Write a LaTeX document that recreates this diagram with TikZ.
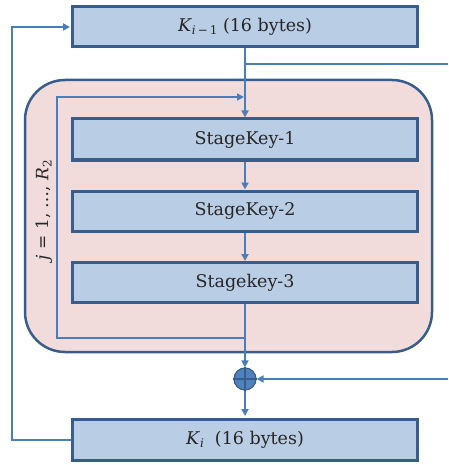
\documentclass[tikz,border=0pt]{standalone}
\usepackage{fontspec}
\setmainfont{DejaVu Serif}
\usetikzlibrary{arrows.meta}
\definecolor{boxfill}{HTML}{B9CDE5}
\definecolor{boxedge}{HTML}{385D8A}
\definecolor{wire}{HTML}{4A7EBB}
\definecolor{roundfill}{HTML}{F2DCDB}
\definecolor{xorfill}{HTML}{4F81BD}
% italic variable with a lowered subscript, set in the text font
\newcommand{\vsub}[2]{\textit{#1}\raisebox{-0.35ex}{\fontsize{12}{14}\selectfont #2}}
\tikzset{
  keybox/.style={draw=boxedge, fill=boxfill, line width=3pt,
    minimum width=345pt, minimum height=40pt, inner sep=0pt,
    font=\fontsize{17.5}{20}\selectfont, text=black!85},
  wireline/.style={draw=wire, line width=2pt},
  tip/.style={-{Triangle[length=7pt,width=7pt]}},
  xorgate/.style={circle, draw=boxedge, fill=xorfill, line width=1.2pt,
    minimum size=22pt, inner sep=0pt},
}
\begin{document}
\begin{tikzpicture}[x=1pt,y=-1pt]
\useasboundingbox (0,0) rectangle (448,465);

% round-stage container
\draw[draw=boxedge, fill=roundfill, line width=2.5pt, rounded corners=40pt]
  (25,80) rectangle (432,352);

% key boxes
\node[keybox] (top) at (245,27) {\vsub{K}{\textit{i}\,−\,1} (16 bytes)};
\node[keybox, minimum height=41pt] (s1) at (245,139.5) {StageKey-1};
\node[keybox] (s2) at (245,211) {StageKey-2};
\node[keybox] (s3) at (245,282.5) {Stagekey-3};
\node[keybox, minimum height=41pt] (bot) at (245,440) {\vsub{K}{\textit{i}}\ \ (16 bytes)};

% xor gate
\node[xorgate] (xor) at (245,379) {};
\draw[boxedge, line width=1.2pt] (xor.north) -- (xor.south) (xor.west) -- (xor.east);

% loop counter label
\node[rotate=90, font=\fontsize{17}{20}\selectfont, text=black!85] (lbl) at (44,210)
  {\textit{j} = 1, …, \vsub{R}{2}};

% free ends and bends
\coordinate (branch) at (245,64);
\coordinate (outR) at (448,64);
\coordinate (inR) at (448,379);
\coordinate (loopA) at (245,338);
\coordinate (loopB) at (57,338);
\coordinate (loopC) at (57,97);
\coordinate (loopD) at (245,97);
\coordinate (fbA) at (12,440);

% connectors
\draw[wireline, tip] (top.south) -- (s1.north);
\draw[wireline] (branch) -- (outR);
\draw[wireline, tip] (s1.south) -- (s2.north);
\draw[wireline, tip] (s2.south) -- (s3.north);
\draw[wireline, tip] (s3.south) -- (xor.north);
\draw[wireline, tip] (inR) -- (xor.east);
\draw[wireline, tip, shorten >=2pt] (xor.south) -- (bot.north);
\draw[wireline, tip, shorten >=1pt] (bot.west) -- (fbA) |- (top.west);
\draw[draw=wire, line width=1.5pt, tip, shorten >=1pt] (loopA) -- (loopB) -- (loopC) -- (loopD);
\end{tikzpicture}
\end{document}
